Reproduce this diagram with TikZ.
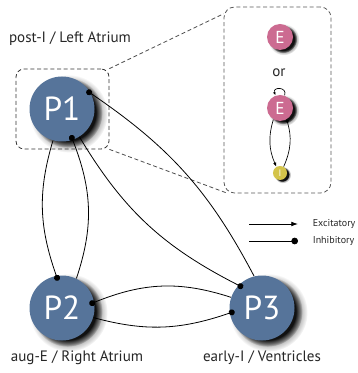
\documentclass[tikz,border=0pt]{standalone}
\usepackage{fontspec}
\setmainfont{PT Sans}
\usetikzlibrary{arrows.meta,shadows,fadings}
\definecolor{popblue}{RGB}{86,116,154}
\definecolor{epink}{RGB}{204,107,145}
\definecolor{iyellow}{RGB}{212,196,74}
\tikzset{
  softshadow/.style={
    general shadow={shadow scale=1.2, shadow xshift=#1*1.3, shadow yshift=-#1*0.9, fill=black,
      opacity=0.3, path fading={circle with fuzzy edge 20 percent}},
    general shadow={shadow scale=1.08, shadow xshift=#1*1.2, shadow yshift=-#1*0.8, fill=black,
      opacity=0.9, path fading={circle with fuzzy edge 20 percent}}},
  pop/.style={circle, fill=popblue, text=white, minimum size=48.75pt, inner sep=0pt,
    font=\fontsize{25}{25}\selectfont, softshadow=3.2pt},
  enode/.style={circle, fill=epink, text=white, minimum size=19.5pt, inner sep=0pt,
    font=\fontsize{13}{13}\selectfont, softshadow=1.8pt},
  inode/.style={circle, fill=iyellow, text=white, minimum size=10.5pt, inner sep=0pt,
    font=\fontsize{7}{7}\selectfont, softshadow=1.3pt},
  zbox/.style={draw, dashed, dash pattern=on 3pt off 2pt, rounded corners=6pt, inner sep=0pt},
  inh/.style={-{Circle[length=4.5pt]}, shorten >=-4pt},
  exc/.style={-{Latex[length=5pt,width=3.5pt]}},
  lbl/.style={font=\fontsize{11.3}{13}\selectfont, text=black!85},
  leg/.style={font=\fontsize{7.5}{9}\selectfont, text=black!85, anchor=west}
}
\begin{document}
\begin{tikzpicture}[x=0.75pt, y=-0.75pt, line width=0.6pt]
  \useasboundingbox (0,0) rectangle (357,373);
  % zoom boxes
  \node[zbox, draw=black!80, minimum width=69.75pt, minimum height=60pt] (small) at (62.5,109) {};
  \node[zbox, draw=black!65, rounded corners=8pt, minimum width=80.25pt, minimum height=139.5pt] (big) at (277.5,100) {};
  \draw[dashed, dash pattern=on 3pt off 2pt, draw=black!70] (small.north east) -- (big.122);
  \draw[dashed, dash pattern=on 3pt off 2pt, draw=black!70] (small.south east) -- (big.242);
  % populations
  \node[pop] (p1) at (62,109) {P1};
  \node[pop] (p2) at (62,308) {P2};
  \node[pop] (p3) at (262,308) {P3};
  \node[lbl] (l1) at (70,39) {post-I / Left Atrium};
  \node[lbl] (l2) at (77,358) {aug-E / Right Atrium};
  \node[lbl] (l3) at (262,358) {early-I / Ventricles};
  % connections
  \draw[inh] (p1.254) to[bend right=18] (p2.100);
  \draw[inh] (p2.64) to[bend right=20] (p1.289);
  \draw[inh] (p1.302) to[bend right=16] (p3.136);
  \draw[inh] (p3.104) to[bend right=14] (p1.28);
  \draw[inh] (p3.161) to[bend right=20] (p2.10);
  \draw[inh] (p2.343) to[bend right=17] (p3.189);
  % detail
  \node[enode] (e1) at (280,37) {E};
  \node[lbl] (or) at (279,73) {or};
  \node[enode] (e2) at (280,108) {E};
  \node[inode] (i1) at (280,173) {I};
  \draw[line width=0.5pt, -{Latex[length=2.5pt,width=2pt]}] (e2.70) .. controls +(70:7pt) and +(110:7pt) .. (e2.110);
  \draw[line width=0.5pt, -{Latex[length=3pt,width=2.5pt]}] (e2.240) to[bend right=20] (i1.120);
  \draw[line width=0.5pt, -{Circle[length=2.5pt]}] (i1.60) to[bend right=20] (e2.300);
  % legend
  \coordinate (x1) at (249,224);
  \coordinate (x2) at (298,224);
  \coordinate (y1) at (249,241);
  \coordinate (y2) at (298,241);
  \draw[exc] (x1) -- (x2);
  \draw[-{Circle[length=5pt]}] (y1) -- (y2);
  \node[leg] (ex) at (308,224) {Excitatory};
  \node[leg] (in) at (308,241) {Inhibitory};
\end{tikzpicture}
\end{document}
